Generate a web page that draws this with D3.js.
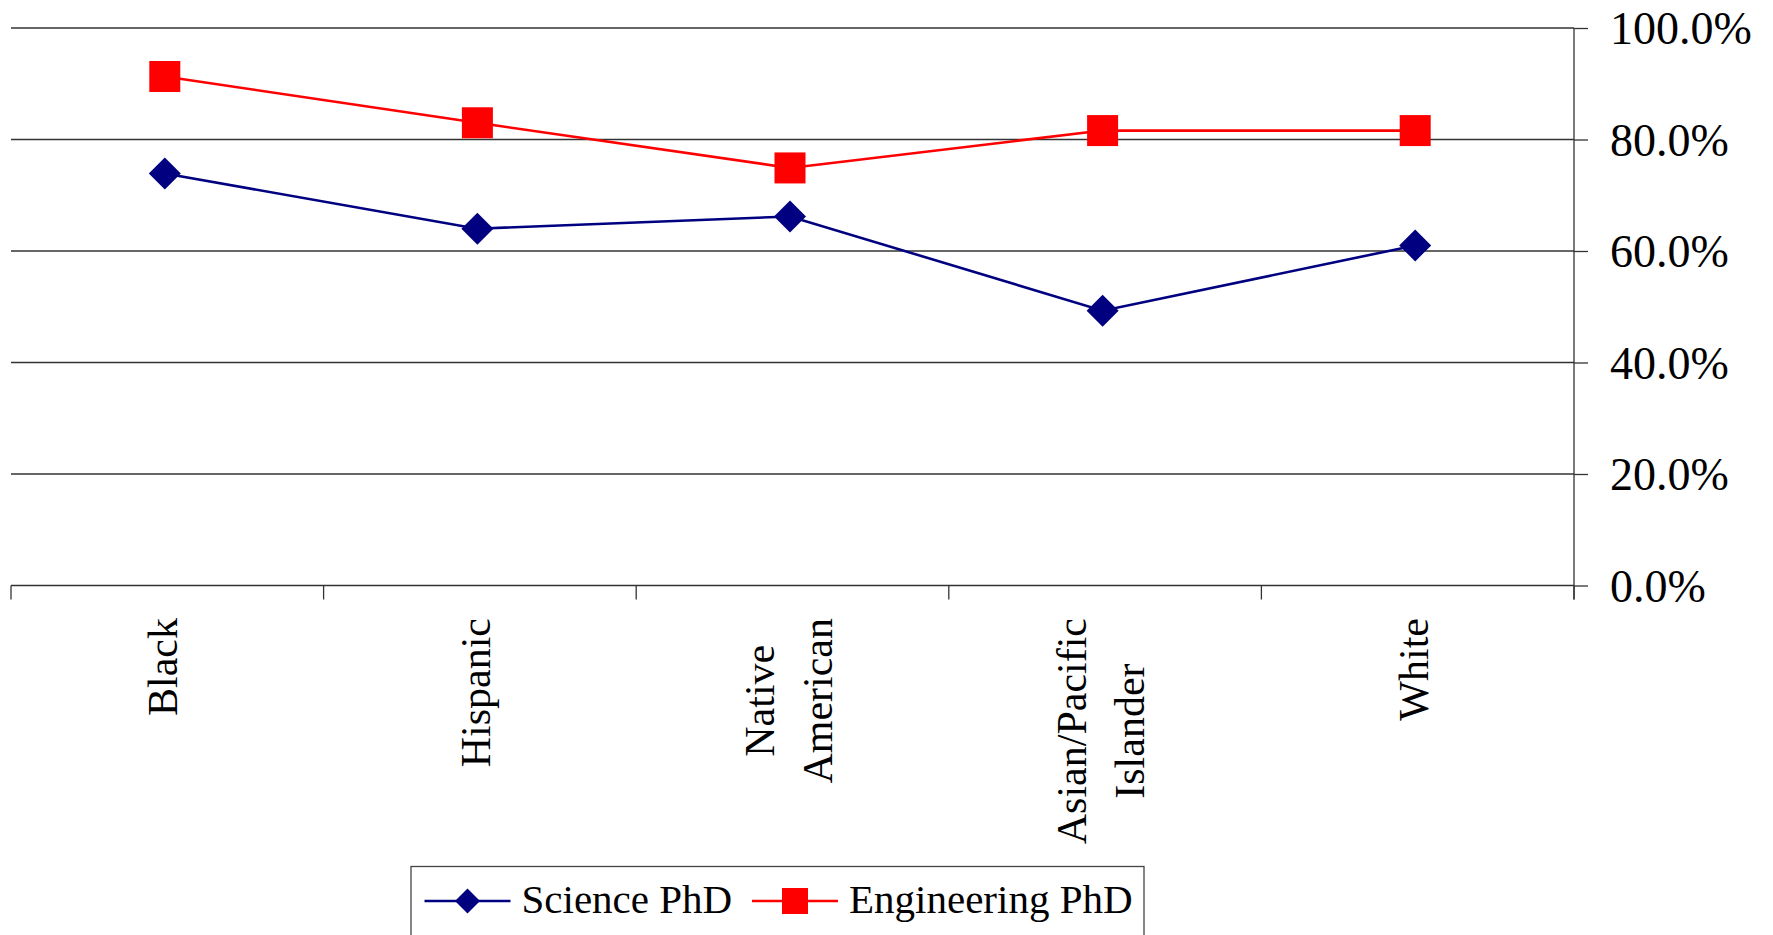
<!DOCTYPE html>
<html>
<head>
<meta charset="utf-8">
<script src="https://cdn.jsdelivr.net/npm/d3@7"></script>
<style>
  html, body { margin: 0; padding: 0; background: #fff; }
  svg { display: block; }
  text { font-family: "Liberation Serif", "Times New Roman", serif; fill: #000; }
</style>
</head>
<body>
<svg id="chart" width="1773" height="935"></svg>
<script>
// ---- data ----
const categories = ["Black", "Hispanic", "Native\nAmerican", "Asian/Pacific\nIslander", "White"];
const seriesNames = ["Science PhD", "Engineering PhD"];
const sciencePhD = [0.739, 0.640, 0.662, 0.493, 0.610];
const engineeringPhD = [0.913, 0.830, 0.749, 0.816, 0.816];
const yTicks = [0, 0.2, 0.4, 0.6, 0.8, 1.0];
const seriesColors = ["#000080", "#FF0000"];

// ---- layout ----
const svg = d3.select("#chart");
const plot = { left: 11, right: 1574, top: 28, bottom: 585.5 };

const x = d3.scaleBand().domain(categories).range([plot.left, plot.right]).padding(0);
const y = d3.scaleLinear().domain([0, 1]).range([plot.bottom, plot.top]);
const cx = d => x(d) + x.bandwidth() / 2;
const px = i => cx(categories[i]) - 2.5;   // marker position within the band

// gridlines
svg.append("g").selectAll("line").data(yTicks).join("line")
  .attr("x1", plot.left).attr("x2", plot.right)
  .attr("y1", d => y(d)).attr("y2", d => y(d))
  .attr("stroke", "#333").attr("stroke-width", 1.3);

// right value axis
const yAxis = d3.axisRight(y).tickValues(yTicks).tickFormat(d3.format(".1%"))
  .tickSize(14).tickPadding(22);
const gy = svg.append("g").attr("transform", `translate(${plot.right},0)`).call(yAxis);
gy.select(".domain").remove();
gy.selectAll(".tick line").attr("stroke", "#333").attr("stroke-width", 1.3);
gy.selectAll(".tick text").attr("font-size", 46).attr("dy", "0.34em")
  .style("font-family", "'Liberation Serif', serif").attr("fill", "#000");
gy.append("line").attr("x1", 0).attr("x2", 0).attr("y1", plot.top).attr("y2", plot.bottom + 14)
  .attr("stroke", "#333").attr("stroke-width", 1.3);

// category axis ticks at band boundaries
const bounds = categories.map(c => x(c)).concat([x.range()[1]]);
svg.append("g").selectAll("line").data(bounds).join("line")
  .attr("x1", d => d).attr("x2", d => d)
  .attr("y1", plot.bottom).attr("y2", plot.bottom + 14)
  .attr("stroke", "#333").attr("stroke-width", 1.3);

// category labels (rotated)
const labelTop = 618, lineGap = 58, fs = 42;
categories.forEach(c => {
  const lines = c.split("\n");
  const g = svg.append("g").attr("transform", `translate(${cx(c)},${labelTop}) rotate(-90)`);
  const texts = lines.map((ln, i) => g.append("text")
    .attr("font-size", fs).attr("text-anchor", "middle")
    .attr("y", 10 - (lines.length - 1) * lineGap / 2 + i * lineGap)
    .text(ln));
  const maxLen = d3.max(texts, t => t.node().getComputedTextLength());
  texts.forEach(t => t.attr("x", -maxLen / 2));
});

// series
const series = [sciencePhD, engineeringPhD];
const line = d3.line().x((d, i) => px(i)).y(d => y(d));
series.forEach((vals, si) => {
  svg.append("path").datum(vals).attr("d", line)
    .attr("fill", "none").attr("stroke", seriesColors[si]).attr("stroke-width", 2.6);
});
// markers
const diamond = (s) => `M0,${-s/2}L${s/2},0L0,${s/2}L${-s/2},0Z`;
svg.append("g").selectAll("path").data(sciencePhD).join("path")
  .attr("transform", (d, i) => `translate(${px(i)},${y(d)})`)
  .attr("d", diamond(32)).attr("fill", seriesColors[0]);
svg.append("g").selectAll("rect").data(engineeringPhD).join("rect")
  .attr("x", (d, i) => px(i) - 15.5).attr("y", d => y(d) - 15.5)
  .attr("width", 31).attr("height", 31).attr("fill", seriesColors[1]);

// legend
const lg = svg.append("g");
lg.append("rect").attr("x", 411).attr("y", 866.5).attr("width", 733).attr("height", 120)
  .attr("fill", "#fff").attr("stroke", "#444").attr("stroke-width", 1.3);
const legendItems = [
  { name: seriesNames[0], color: seriesColors[0], x0: 424.5, shape: "diamond" },
  { name: seriesNames[1], color: seriesColors[1], x0: 752, shape: "square" }
];
legendItems.forEach(it => {
  const ly = 901;
  lg.append("line").attr("x1", it.x0).attr("x2", it.x0 + 86).attr("y1", ly).attr("y2", ly)
    .attr("stroke", it.color).attr("stroke-width", 2.6);
  const mx = it.x0 + 43;
  if (it.shape === "diamond") {
    lg.append("path").attr("transform", `translate(${mx},${ly})`).attr("d", diamond(25)).attr("fill", it.color);
  } else {
    lg.append("rect").attr("x", mx - 13).attr("y", ly - 13).attr("width", 26).attr("height", 26).attr("fill", it.color);
  }
  lg.append("text").attr("x", it.x0 + 97).attr("y", 913).attr("font-size", 41).text(it.name);
});
</script>
</body>
</html>
